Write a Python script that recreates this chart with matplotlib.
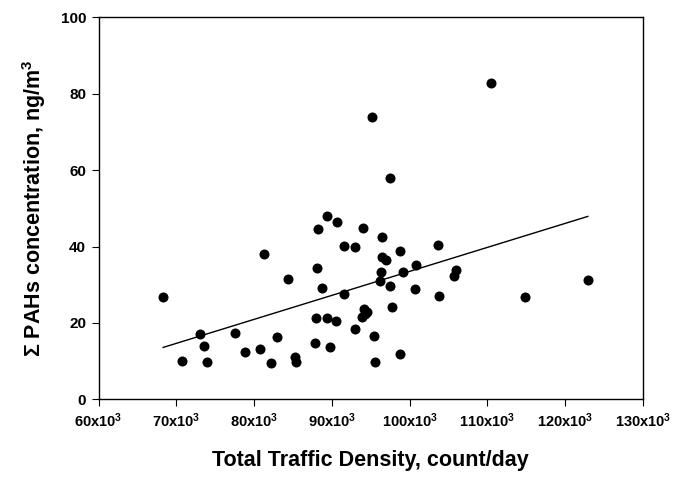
import numpy as np
import matplotlib
matplotlib.use("Agg")
import matplotlib.pyplot as plt

plt.rcParams['font.family'] = ['Liberation Sans', 'DejaVu Sans']
plt.rcParams['mathtext.fontset'] = 'custom'
plt.rcParams['mathtext.rm'] = 'Liberation Sans:bold'
plt.rcParams['mathtext.it'] = 'Liberation Sans:bold'
plt.rcParams['mathtext.bf'] = 'Liberation Sans:bold'

# Total traffic density (count/day)
traffic = [68300, 70700, 73100, 73600, 74000, 77500, 78800, 80700, 81300, 82200,
           83000, 84300, 85300, 85400, 87800, 87900, 88100, 88200, 88700, 89400,
           89400, 89700, 90500, 90700, 91500, 91600, 93000, 93000, 94000, 94100,
           94500, 93900, 94300, 95400, 95600, 96400, 96400, 96900, 96300, 96200,
           97500, 97700, 98700, 98700, 99200, 100800, 100700, 103700, 103800, 106000,
           105700, 114800, 122900, 95200, 97500, 110400]
# Sum of PAHs concentration (ng/m3)
pahs = [26.9, 10.1, 17.2, 14.0, 9.8, 17.4, 12.4, 13.1, 38.0, 9.4,
        16.4, 31.5, 11.2, 9.7, 14.8, 21.4, 34.5, 44.5, 29.1, 48.1,
        21.4, 13.7, 20.6, 46.4, 27.6, 40.2, 39.8, 18.5, 44.8, 23.7,
        22.8, 21.5, 22.3, 16.7, 9.7, 42.5, 37.2, 36.4, 33.3, 30.9,
        29.6, 24.3, 38.8, 11.8, 33.4, 35.1, 28.8, 40.4, 27.1, 33.8,
        32.3, 26.9, 31.2, 74.0, 58.0, 82.9]

# Linear regression line
fit_slope = 0.000628
fit_intercept = -29.3

x_ticks = [60000, 70000, 80000, 90000, 100000, 110000, 120000, 130000]
x_ticklabels = [f"{v // 1000}x10$^{{3}}$" for v in x_ticks]
y_ticks = [0, 20, 40, 60, 80, 100]

fig = plt.figure(figsize=(6.78, 4.8), dpi=100)
ax = fig.add_axes([0.1454, 0.168, 0.8030, 0.796])

ax.scatter(traffic, pahs, s=52, color='black', zorder=3, linewidths=0)
xs = np.array([min(traffic), max(traffic)])
ax.plot(xs, fit_slope * xs + fit_intercept, color='black', lw=1.0, zorder=2)

ax.set_xlim(60000, 130000)
ax.set_ylim(0, 100)
ax.set_xticks(x_ticks)
ax.set_xticklabels(x_ticklabels)
ax.set_yticks(y_ticks)
for lab in ax.get_xticklabels():
    lab.set_fontweight('bold')
    lab.set_fontsize(10.5)
for lab in ax.get_yticklabels():
    lab.set_fontweight('bold')
    lab.set_fontsize(11)
ax.tick_params(direction='out', length=5, width=0.8, top=False, right=False, pad=4)
for sp in ax.spines.values():
    sp.set_linewidth(1.0)

ax.set_xlabel("Total Traffic Density, count/day", fontsize=15.5, fontweight='bold', labelpad=14)
ax.set_ylabel("\u03a3 PAHs concentration, ng/m$^{3}$", fontsize=15.5, fontweight='bold', labelpad=9)

fig.savefig("out.png", dpi=100)
